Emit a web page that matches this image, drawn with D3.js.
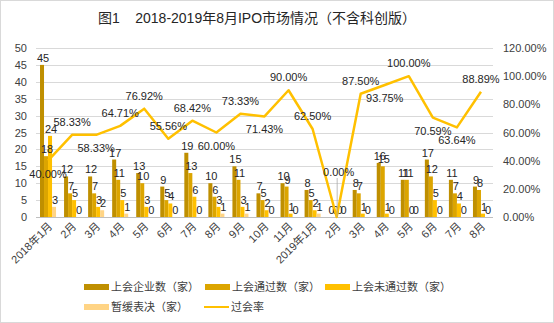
<!DOCTYPE html>
<meta charset="utf-8">
<style>
    body { margin: 0; background: #fff; }
    svg text { font-family: "Liberation Sans", Arial, "Noto Sans CJK SC", sans-serif; fill: #404040; }
</style>
<div id="container"></div>
<script src="https://cdn.jsdelivr.net/npm/d3@7"></script>
<script>
    // Data
    let months = ["2018年1月", "2月", "3月", "4月", "5月", "6月", "7月", "8月", "9月", "10月", "11月",
        "2019年1月", "2月", "3月", "4月", "5月", "6月", "7月", "8月"];
    let reviewed = [45, 12, 12, 17, 13, 9, 19, 10, 15, 7, 10, 8, 0, 8, 16, 11, 17, 11, 9];
    let passed = [18, 7, 7, 11, 10, 5, 13, 6, 11, 5, 9, 5, 0, 7, 15, 11, 12, 7, 8];
    let rejected = [24, 5, 3, 5, 3, 4, 6, 3, 3, 2, 1, 2, 0, 1, 1, 0, 5, 4, 1];
    let postponed = [3, 0, 2, 1, 0, 0, 0, 1, 1, 0, 0, 1, 0, 0, 0, 0, 0, 0, 0];
    let passRate = [40.00, 58.33, 58.33, 64.71, 76.92, 55.56, 68.42, 60.00, 73.33, 71.43, 90.00,
        62.50, 0.00, 87.50, 93.75, 100.00, 70.59, 63.64, 88.89];
    let leftTicks = [0, 5, 10, 15, 20, 25, 30, 35, 40, 45, 50];
    let rightTicks = [0, 20, 40, 60, 80, 100, 120];

    // where the rate labels sit relative to the line
    let rateLabelSide = ["below", "above", "below", "above", "above", "above", "above", "below", "above", "below",
        "above", "above", "leader", "above", "below", "above", "below", "below", "above"];

    let series = [
        { name: "上会企业数（家）", values: reviewed, color: "#BF8F00" },
        { name: "上会通过数（家）", values: passed, color: "#DCA500" },
        { name: "上会未通过数（家）", values: rejected, color: "#FFC000" },
        { name: "暂缓表决（家）", values: postponed, color: "#FFD485" }
    ];
    let lineColor = "#FFC000";

    let W = 554, H = 323;
    let plot = { left: 36, right: 493, top: 48, bottom: 217 };

    let svg = d3.select("#container").append("svg")
        .attr("width", W).attr("height", H);

    svg.append("rect")
        .attr("x", 0.5).attr("y", 0.5)
        .attr("width", W - 1).attr("height", H - 1)
        .attr("fill", "#fff").attr("stroke", "#d9d9d9");

    // Title
    svg.append("text")
        .attr("x", 257).attr("y", 23)
        .attr("text-anchor", "middle")
        .style("font-size", "14px")
        .style("fill", "#262626")
        .attr("xml:space", "preserve")
        .text("图1    2018-2019年8月IPO市场情况（不含科创版）");

    // Scales
    let x = d3.scaleBand().domain(months.map((d, i) => i))
        .range([plot.left, plot.right]).paddingInner(1 / 3).paddingOuter(1 / 6);
    let xSub = d3.scaleBand().domain(series.map((d, i) => i))
        .range([0, x.bandwidth()]);
    let y = d3.scaleLinear().domain([0, 50]).range([plot.bottom, plot.top]);
    let y2 = d3.scaleLinear().domain([0, 120]).range([plot.bottom, plot.top]);
    let cx = i => x(i) + x.bandwidth() / 2;

    // Gridlines
    svg.append("g").selectAll("line")
        .data(leftTicks)
        .enter().append("line")
        .attr("x1", plot.left).attr("x2", plot.right)
        .attr("y1", d => Math.round(y(d)) + 0.5).attr("y2", d => Math.round(y(d)) + 0.5)
        .attr("stroke", d => d === 0 ? "#bfbfbf" : "#d9d9d9");

    // Left axis labels
    svg.append("g").selectAll("text")
        .data(leftTicks)
        .enter().append("text")
        .attr("x", 27).attr("y", d => y(d) + 4)
        .attr("text-anchor", "end")
        .style("font-size", "11px")
        .text(d => d);

    // Right axis labels
    svg.append("g").selectAll("text")
        .data(rightTicks)
        .enter().append("text")
        .attr("x", 503).attr("y", d => y2(d) + 4)
        .style("font-size", "11px")
        .text(d => d.toFixed(2) + "%");

    // Bars
    series.forEach((s, si) => {
        let g = svg.append("g");
        g.selectAll("rect")
            .data(s.values)
            .enter().append("rect")
            .attr("x", (d, i) => x(i) + xSub(si))
            .attr("y", d => y(d))
            .attr("width", xSub.bandwidth())
            .attr("height", d => y(0) - y(d))
            .attr("fill", s.color);
    });

    // Bar labels
    series.forEach((s, si) => {
        svg.append("g").selectAll("text")
            .data(s.values)
            .enter().append("text")
            .attr("x", (d, i) => x(i) + xSub(si) + xSub.bandwidth() / 2 + 1)
            .attr("y", d => y(d) - 3)
            .attr("text-anchor", "middle")
            .style("font-size", "11px")
            .style("fill", "#262626")
            .text(d => d);
    });

    // Pass rate line
    let line = d3.line().x((d, i) => cx(i)).y(d => y2(d));
    svg.append("path")
        .datum(passRate)
        .attr("d", line)
        .attr("fill", "none")
        .attr("stroke", lineColor)
        .attr("stroke-width", 2.5)
        .attr("stroke-linejoin", "round");

    // leader line for the label that was pulled away from its point
    svg.append("g").selectAll("line")
        .data(passRate.map((d, i) => i).filter(i => rateLabelSide[i] === "leader"))
        .enter().append("line")
        .attr("x1", i => cx(i) + 0.5).attr("x2", i => cx(i) + 0.5)
        .attr("y1", i => y2(passRate[i]) - 39).attr("y2", i => y2(passRate[i]))
        .attr("stroke", "#a6a6a6").attr("stroke-width", 0.75);

    let labelY = (d, i) => {
        if (rateLabelSide[i] === "above") return y2(d) - 9;
        if (rateLabelSide[i] === "leader") return y2(d) - 41;
        return y2(d) + 17;
    };
    svg.append("g").selectAll("text")
        .data(passRate)
        .enter().append("text")
        .attr("x", (d, i) => cx(i) + (rateLabelSide[i] === "leader" ? 2 : 0))
        .attr("y", labelY)
        .attr("text-anchor", "middle")
        .style("font-size", "11px")
        .style("fill", "#262626")
        .text(d => d.toFixed(2) + "%");

    // X axis labels
    svg.append("g").selectAll("text")
        .data(months)
        .enter().append("text")
        .attr("transform", (d, i) => `translate(${cx(i) + 5}, ${plot.bottom + 10}) rotate(-45)`)
        .attr("text-anchor", "end")
        .style("font-size", "11px")
        .text(d => d);

    // Legend
    let legend = [
        { name: series[0].name, color: series[0].color, x: 84, y: 287, type: "bar" },
        { name: series[1].name, color: series[1].color, x: 205, y: 287, type: "bar" },
        { name: series[2].name, color: series[2].color, x: 325, y: 287, type: "bar" },
        { name: series[3].name, color: series[3].color, x: 84, y: 307, type: "bar" },
        { name: "过会率", color: lineColor, x: 204, y: 307, type: "line" }
    ];
    let lg = svg.append("g").selectAll("g")
        .data(legend)
        .enter().append("g")
        .attr("transform", d => `translate(${d.x}, ${d.y})`);
    lg.append("rect")
        .attr("x", 0)
        .attr("y", d => d.type === "bar" ? -3 : -1)
        .attr("width", 25)
        .attr("height", d => d.type === "bar" ? 6 : 2)
        .attr("fill", d => d.color);
    lg.append("text")
        .attr("x", 27).attr("y", 4)
        .style("font-size", "11px")
        .text(d => d.name);
</script>
